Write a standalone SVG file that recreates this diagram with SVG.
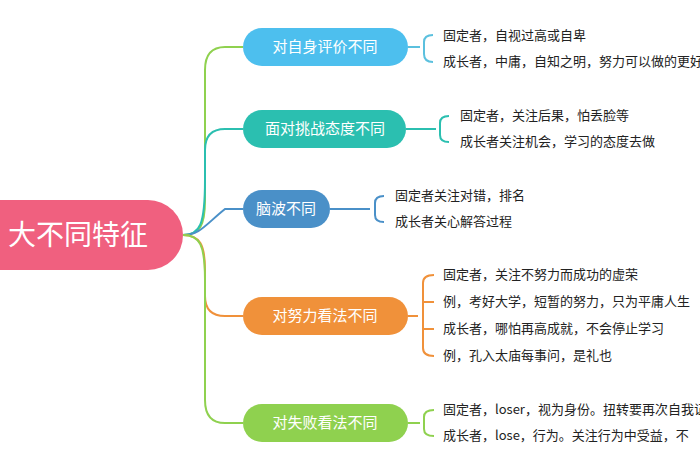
<svg xmlns="http://www.w3.org/2000/svg" width="700" height="470" viewBox="0 0 700 470">
<style>
text{font-family:"Noto Sans CJK SC","Liberation Sans",sans-serif}
.n{font-size:15px;fill:#fff;text-anchor:middle}
.l{font-size:13px;fill:#222}
.c{fill:none;stroke-width:2}
</style>
<rect width="700" height="470" fill="#fff"/>
<g id="connectors">
<path class="c" stroke="#8fd14f" d="M183,235 C200,235 205,225 205,200 L205,70 Q205,47 225,47 L243,47"/>
<path class="c" stroke="#2bbfb0" d="M183,235 C200,235 205,225 205,180 L205,150 Q205,129 225,129 L243,129"/>
<path class="c" stroke="#4a90c8" d="M183,235 C200,235 205,225 225,209 L243,209"/>
<path class="c" stroke="#f0913a" d="M183,235 C200,235 205,245 205,270 L205,296 Q205,316 225,316 L243,316"/>
<path class="c" stroke="#8fd14f" d="M183,235 C200,235 205,245 205,280 L205,400 Q205,423 225,423 L243,423"/>
<g stroke="#5bc0de" class="c" stroke-width="1.5">
<path d="M408,47 L420,47 M433,35 Q424,35 424,42 L424,54 Q424,62 433,62"/>
</g>
<g stroke="#2bbfb0" class="c" stroke-width="1.5">
<path d="M406,129 L436,129 M449,116 Q440,116 440,123 L440,135 Q440,142 449,142"/>
</g>
<g stroke="#4a90c8" class="c" stroke-width="1.5">
<path d="M330,209 L370,209 M384,196 Q375,196 375,203 L375,215 Q375,222 384,222"/>
</g>
<g stroke="#f0913a" class="c" stroke-width="1.5">
<path d="M408,316 L418,316 M434,275 Q423,275 423,283 L423,348 Q423,356 434,356 M423,302 L434,302 M423,329 L434,329"/>
</g>
<g stroke="#8fd14f" class="c" stroke-width="1.5">
<path d="M408,423 L420,423 M434,410 Q424,410 424,417 L424,429 Q424,436 434,436"/>
</g>
</g>
<g id="root"><rect x="-40" y="200" width="223" height="70" rx="35" fill="#f0607f"/><text x="148" y="245" font-size="28" fill="#fff" text-anchor="end">大不同特征</text></g>
<g id="n1"><rect x="243" y="28" width="165" height="38" rx="19" fill="#4dbfee"/><text class="n" x="325" y="52">对自身评价不同</text></g>
<g id="n2"><rect x="243" y="110" width="163" height="38" rx="19" fill="#2bbfb0"/><text class="n" x="325" y="134">面对挑战态度不同</text></g>
<g id="n3"><rect x="243" y="190" width="87" height="38" rx="19" fill="#4a90c8"/><text class="n" x="286" y="214">脑波不同</text></g>
<g id="n4"><rect x="243" y="297" width="165" height="38" rx="19" fill="#f0913a"/><text class="n" x="325" y="321">对努力看法不同</text></g>
<g id="n5"><rect x="243" y="404" width="165" height="38" rx="19" fill="#8fd14f"/><text class="n" x="325" y="428">对失败看法不同</text></g>
<g id="leaves">
<text class="l" x="443" y="40">固定者，自视过高或自卑</text>
<text class="l" x="443" y="66">成长者，中庸，自知之明，努力可以做的更好</text>
<text class="l" x="460" y="120">固定者，关注后果，怕丢脸等</text>
<text class="l" x="460" y="146">成长者关注机会，学习的态度去做</text>
<text class="l" x="395" y="200">固定者关注对错，排名</text>
<text class="l" x="395" y="226">成长者关心解答过程</text>
<text class="l" x="443" y="279">固定者，关注不努力而成功的虚荣</text>
<text class="l" x="443" y="306">例，考好大学，短暂的努力，只为平庸人生</text>
<text class="l" x="443" y="333">成长者，哪怕再高成就，不会停止学习</text>
<text class="l" x="443" y="360">例，孔入太庙每事问，是礼也</text>
<text class="l" x="443" y="414">固定者，loser，视为身份。扭转要再次自我证明</text>
<text class="l" x="443" y="440">成长者，lose，行为。关注行为中受益，不</text>
</g>
</svg>
